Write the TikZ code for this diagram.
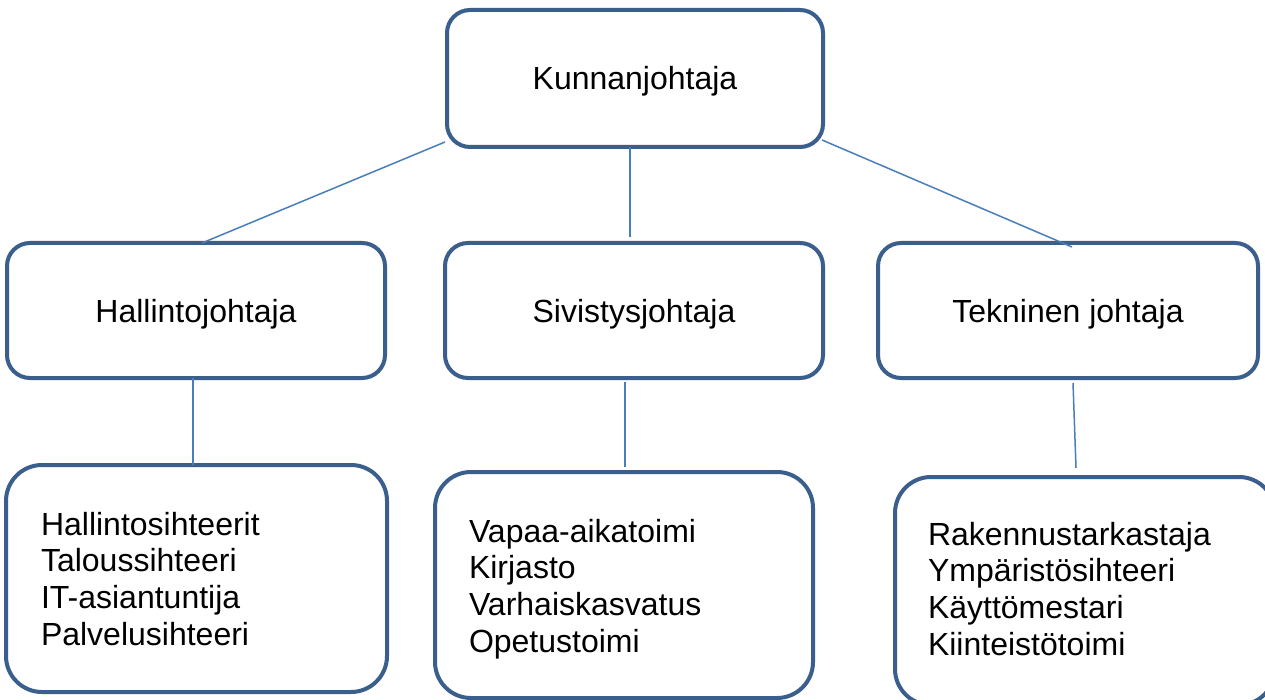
\documentclass[tikz,border=0pt]{standalone}
\usepackage{fontspec}
\setmainfont{Liberation Sans}
\definecolor{boxblue}{HTML}{3A5F8D}
\definecolor{lineblue}{HTML}{4A7EBB}
\begin{document}
\begin{tikzpicture}[x=1pt,y=-1pt,
  orgbox/.style={draw=boxblue, line width=4pt, fill=white, rounded corners=23pt,
    inner sep=0pt, outer sep=0pt, text height=23pt, text depth=0pt,
    font=\fontsize{32}{36.7}\selectfont},
  unitbox/.style={draw=boxblue, line width=4pt, fill=white, rounded corners=36pt,
    inner sep=0pt, outer sep=0pt},
  unittext/.style={anchor=base west, inner sep=0pt, outer sep=0pt,
    font=\fontsize{32}{36.7}\selectfont},
  link/.style={draw=lineblue, line width=1.5pt}]
\clip (0,0) rectangle (1265,700);
\fill[white] (0,0) rectangle (1265,700);
% connectors (behind boxes)
\node[orgbox, minimum width=376pt, minimum height=137pt] (k) at (635,78.5) {Kunnanjohtaja};
\node[orgbox, minimum width=378pt, minimum height=135pt] (h) at (196,310.5) {Hallintojohtaja};
\node[orgbox, minimum width=378pt, minimum height=135pt] (s) at (634,310.5) {Sivistysjohtaja};
\node[orgbox, minimum width=380pt, minimum height=135pt] (t) at (1068,310.5) {Tekninen johtaja};
\node[unitbox, minimum width=381pt, minimum height=227pt] (b1) at (196.5,578.5) {};
\node[unitbox, minimum width=378pt, minimum height=226pt] (b2) at (624,585) {};
\node[unitbox, minimum width=380pt, minimum height=228pt] (b3) at (1085,591) {};
\node[unittext] (t1) at (41,535) {\begin{tabular}[t]{@{}l@{}}Hallintosihteerit\\Taloussihteeri\\IT-asiantuntija\\Palvelusihteeri\end{tabular}};
\node[unittext] (t2) at (469,542) {\begin{tabular}[t]{@{}l@{}}Vapaa-aikatoimi\\Kirjasto\\Varhaiskasvatus\\Opetustoimi\end{tabular}};
\node[unittext] (t3) at (928,545) {\begin{tabular}[t]{@{}l@{}}Rakennustarkastaja\\Ympäristösihteeri\\Käyttömestari\\Kiinteistötoimi\end{tabular}};
\draw[link] ([xshift=-2pt,yshift=5pt]k.south west) -- ([xshift=6pt]h.north);
\draw[link] ([xshift=-5pt]k.south) -- ([xshift=-4pt,yshift=6pt]s.north);
\draw[link] ([xshift=-1pt,yshift=7pt]k.south east) -- ([xshift=4pt,yshift=-4pt]t.north);
\draw[link] ([xshift=-3pt]h.south) -- ([xshift=-3.5pt]b1.north);
\draw[link] ([xshift=-9pt,yshift=-4pt]s.south) -- ([xshift=1pt,yshift=5pt]b2.north);
\draw[link] ([xshift=5pt,yshift=-5pt]t.south) -- ([xshift=-9pt,yshift=9pt]b3.north);
\end{tikzpicture}
\end{document}
